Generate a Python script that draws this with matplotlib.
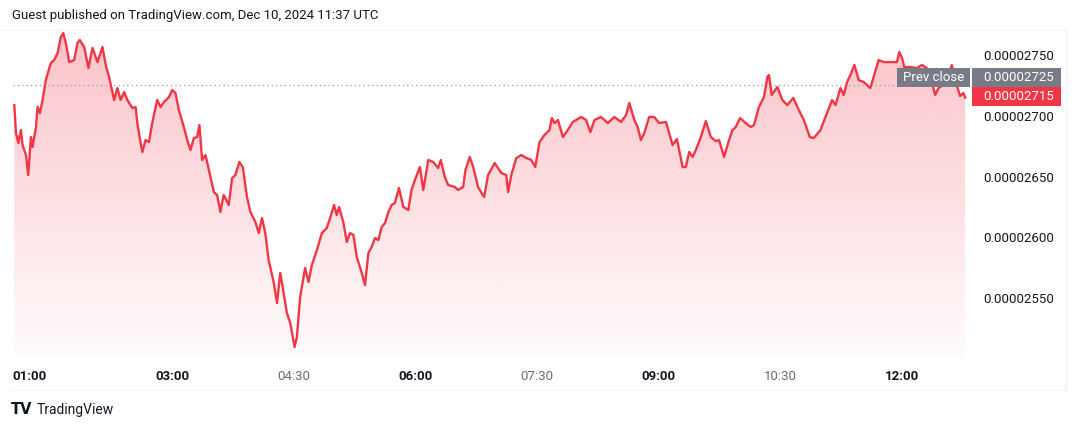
import numpy as np
import matplotlib
matplotlib.use("Agg")
import matplotlib.pyplot as plt
from matplotlib.colors import to_rgb
from matplotlib.patches import Rectangle
import matplotlib.transforms as mtransforms

# minutes since 00:00 and price in units of 1e-8
minutes = [
    63.2, 64.4, 66.2, 68.1, 69.3, 71.8, 73.5, 75.5, 76.7, 79.2, 80.4, 82.1, 84.1, 86.5,
    90.2, 92.7, 95.2, 97.6, 99.4, 101.3, 103.8, 107.5, 109.9, 111.6, 114.9, 118.0, 121.0,
    124.7, 128.4, 130.8, 133.3, 137.0, 139.4, 141.9, 144.4, 146.8, 150.5, 152.9, 154.2,
    156.6, 157.9, 160.3, 162.8, 165.2, 168.9, 171.4, 173.9, 177.6, 180.0, 182.4, 184.9,
    188.6, 191.1, 193.5, 196.0, 198.4, 200.1, 202.1, 204.6, 207.1, 210.8, 213.2, 215.6,
    218.1, 221.8, 224.3, 226.7, 229.6, 232.2, 235.3, 237.8, 241.5, 244.0, 246.4, 248.8,
    251.3, 255.0, 257.5, 259.9, 262.4, 264.8, 267.3, 270.5, 272.2, 274.6, 278.3, 280.8,
    283.3, 287.0, 290.7, 294.3, 296.8, 299.7, 301.7, 303.4, 306.7, 309.1, 311.5, 314.0,
    316.5, 320.2, 322.6, 325.1, 327.5, 330.0, 332.5, 334.9, 337.4, 339.9, 342.3, 344.7,
    347.7, 350.9, 354.6, 357.0, 359.5, 363.2, 365.7, 369.4, 373.1, 376.7, 378.7, 381.6,
    384.1, 389.0, 391.5, 395.2, 396.9, 400.1, 402.6, 406.2, 410.7, 413.6, 418.5, 423.4,
    427.1, 428.4, 430.8, 434.5, 438.2, 441.9, 445.6, 448.5, 451.7, 455.4, 459.1, 460.8,
    462.8, 465.3, 469.0, 472.6, 476.3, 482.5, 486.1, 489.3, 492.3, 497.2, 502.2, 507.0,
    512.0, 515.7, 518.1, 521.8, 524.3, 526.7, 529.2, 532.8, 536.5, 540.2, 545.2, 550.1,
    553.3, 557.5, 559.9, 562.4, 564.9, 567.3, 571.0, 574.7, 578.4, 582.0, 584.5, 588.2,
    591.9, 594.4, 596.8, 600.0, 604.2, 607.9, 610.3, 614.0, 617.7, 620.2, 621.4, 623.4,
    627.6, 631.3, 634.9, 639.4, 643.5, 647.2, 651.6, 654.6, 659.5, 664.4, 668.1, 670.6,
    674.3, 676.7, 679.2, 681.6, 684.6, 687.8, 691.5, 696.4, 698.8, 702.5, 706.2, 711.1,
    716.1, 717.8, 719.8, 721.5, 725.9, 730.8, 734.5, 738.2, 741.9, 744.3, 746.8, 751.7,
    756.7, 759.1, 762.8, 765.2, 766.5,
]
prices = [
    2708.8, 2685.8, 2677.6, 2688.3, 2675.9, 2667.7, 2651.2, 2682.5, 2674.3, 2690.7, 2707.2,
    2702.3, 2713.0, 2729.4, 2743.4, 2745.9, 2751.6, 2764.8, 2768.1, 2759.9, 2744.2, 2745.9,
    2759.9, 2762.3, 2756.6, 2739.3, 2755.8, 2744.2, 2756.6, 2741.8, 2731.9, 2713.0, 2722.8,
    2713.0, 2719.5, 2713.0, 2706.4, 2707.2, 2694.0, 2677.6, 2670.2, 2680.0, 2678.4, 2694.0,
    2713.0, 2707.2, 2711.3, 2715.4, 2721.2, 2718.7, 2704.7, 2690.7, 2680.0, 2671.8, 2681.7,
    2682.5, 2692.4, 2663.6, 2667.7, 2655.4, 2637.2, 2634.8, 2620.8, 2634.8, 2626.6, 2648.8,
    2651.2, 2661.9, 2657.8, 2633.1, 2620.8, 2612.6, 2603.5, 2615.8, 2603.5, 2581.3, 2563.2,
    2545.9, 2570.6, 2554.1, 2537.7, 2529.4, 2509.7, 2517.9, 2550.8, 2574.7, 2563.2, 2577.2,
    2589.5, 2603.5, 2607.6, 2615.8, 2626.6, 2618.3, 2624.9, 2611.7, 2596.1, 2603.5, 2601.9,
    2583.8, 2570.6, 2560.7, 2587.0, 2592.0, 2599.4, 2597.7, 2608.4, 2611.7, 2620.8, 2626.6,
    2628.2, 2640.5, 2625.0, 2622.4, 2638.9, 2647.1, 2657.8, 2638.9, 2663.6, 2661.9, 2657.0,
    2663.6, 2649.6, 2643.0, 2641.4, 2638.9, 2641.4, 2655.4, 2666.1, 2657.8, 2641.4, 2633.1,
    2651.2, 2661.1, 2652.9, 2651.2, 2637.2, 2651.2, 2665.2, 2667.7, 2665.2, 2663.6, 2657.8,
    2678.4, 2684.2, 2688.3, 2698.1, 2694.0, 2696.5, 2682.5, 2688.3, 2694.9, 2699.0, 2696.5,
    2686.6, 2696.5, 2699.0, 2694.0, 2699.0, 2694.9, 2700.6, 2710.5, 2696.5, 2690.7, 2680.0,
    2685.8, 2699.0, 2699.0, 2694.0, 2694.9, 2675.9, 2680.9, 2657.8, 2657.8, 2670.2, 2666.1,
    2671.8, 2682.5, 2695.7, 2682.5, 2679.2, 2680.0, 2666.1, 2680.0, 2688.3, 2690.7, 2698.1,
    2694.0, 2690.7, 2692.4, 2707.2, 2715.4, 2731.9, 2733.5, 2717.1, 2723.7, 2713.0, 2708.8,
    2714.6, 2704.7, 2696.5, 2682.5, 2681.7, 2688.3, 2702.3, 2713.0, 2708.8, 2722.8, 2717.1,
    2727.8, 2733.5, 2741.8, 2729.4, 2727.8, 2722.8, 2731.9, 2745.9, 2744.2, 2744.2, 2744.2,
    2752.5, 2747.5, 2740.1, 2740.1, 2739.3, 2741.8, 2739.3, 2727.8, 2717.1, 2722.8, 2726.1,
    2741.8, 2729.4, 2716.3, 2718.7, 2715.0,
]
price_ticks = [2550, 2600, 2650, 2700, 2750]
time_ticks = [60, 180, 270, 360, 450, 540, 630, 720]
time_labels = ["01:00", "03:00", "04:30", "06:00", "07:30", "09:00", "10:30", "12:00"]
prev_close = 2725
last_price = 2715

RED = "#F23645"
GREY_BOX = "#787B86"
TXT = "#131722"

t = np.array(minutes)
p = np.array(prices) * 1e-8

fig = plt.figure(figsize=(10.8, 4.29), dpi=100)
W, H = 1080, 429
ax_w, ax_h = 965, 325
ax = fig.add_axes([10 / W, (H - 355) / H, ax_w / W, ax_h / H])
xmin, xmax = 62.0, 773.8
ymin, ymax = 2503.1e-8, 2770.6e-8
ax.set_xlim(xmin, xmax)
ax.set_ylim(ymin, ymax)

# gradient fill under the line
poly = ax.fill_between(t, p, ymin, color="none", lw=0)
grad = np.zeros((256, 1, 4))
grad[:, 0, :3] = to_rgb(RED)
grad[:, 0, 3] = np.linspace(0.30, 0.02, 256)
img = ax.imshow(grad, extent=[xmin, xmax, ymin, ymax], aspect="auto", origin="upper", zorder=1)
img.set_clip_path(poly.get_paths()[0], ax.transData)

ax.plot(t, p, color=RED, lw=1.7, zorder=3, solid_joinstyle="round")

# previous close dotted line
ax.plot([xmin, t[-1] + 40], [prev_close * 1e-8] * 2, color="#9598A1", lw=0.9,
        ls=(0, (1, 2.5)), zorder=2)

for s in ax.spines.values():
    s.set_visible(False)

ax.yaxis.tick_right()
ax.set_yticks([v * 1e-8 for v in price_ticks])
ax.set_yticklabels([f"{v * 1e-8:.8f}" for v in price_ticks])
ax.tick_params(axis="y", length=0, pad=6, labelsize=9.5, labelcolor=TXT)
ax.set_xticks(time_ticks)
ax.set_xticklabels(time_labels)
ax.tick_params(axis="x", length=0, pad=11, labelsize=9.5)
for lbl in ax.get_xticklabels():
    lbl.set_fontfamily("Roboto")
    if lbl.get_text().endswith(":00"):
        lbl.set_fontweight("bold")
        lbl.set_color(TXT)
    else:
        lbl.set_color("#6A6D78")
for lbl in ax.get_yticklabels():
    lbl.set_fontfamily("Roboto")
# first label is pushed inside the chart
first = ax.get_xticklabels()[0]
first.set_horizontalalignment("left")
first.set_transform(first.get_transform() + mtransforms.ScaledTranslation(2 / 100, 0, fig.dpi_scale_trans))

# price labels on the right scale
px_y = (ymax - ymin) / ax_h  # data units per pixel
box_h = 18.5 * px_y
blend = mtransforms.blended_transform_factory(ax.transAxes, ax.transData)


def price_box(val, y_shift, color):
    yc = val * 1e-8 + y_shift * px_y
    ax.add_patch(Rectangle((962 / ax_w, yc - box_h / 2), 89 / ax_w, box_h, transform=blend,
                           fc=color, ec="none", clip_on=False, zorder=5))
    ax.text(973 / ax_w, yc, f"{val * 1e-8:.8f}", transform=blend, ha="left", va="center",
            fontsize=9.5, family="Roboto", color="white", clip_on=False, zorder=6)
    return yc


price_box(last_price, 1, RED)
yc = price_box(prev_close, 8, GREY_BOX)
ax.add_patch(Rectangle((887 / ax_w, yc - box_h / 2), 73 / ax_w, box_h, transform=blend,
                       fc=GREY_BOX, ec="none", clip_on=False, zorder=5))
ax.text(923.5 / ax_w, yc, "Prev close", transform=blend, ha="center", va="center",
        fontsize=9.5, family="Roboto", color="white", zorder=6)

# frame lines and header / footer
fig.add_artist(plt.Line2D([0, 1066 / W], [1 - 30 / H] * 2, color="#F0F3FA", lw=1))
fig.add_artist(plt.Line2D([10 / W, 1066 / W], [1 - 390 / H] * 2, color="#F0F3FA", lw=1))
fig.add_artist(plt.Line2D([1066 / W] * 2, [1 - 30 / H, 1 - 390 / H], color="#F0F3FA", lw=1))
fig.text(12 / W, 1 - 16 / H, "Guest published on TradingView.com, Dec 10, 2024 11:37 UTC",
         ha="left", va="center", fontsize=9.5, family="Roboto", color="#131722")
fig.text(11 / W, 1 - 410 / H, "TV", ha="left", va="center", fontsize=10.5,
         family="DejaVu Sans", weight="heavy", color="#131722")
fig.text(37 / W, 1 - 410 / H, "TradingView", ha="left", va="center", fontsize=10,
         family="Roboto", color="#131722")

fig.savefig("out.png", dpi=100, facecolor="white")
